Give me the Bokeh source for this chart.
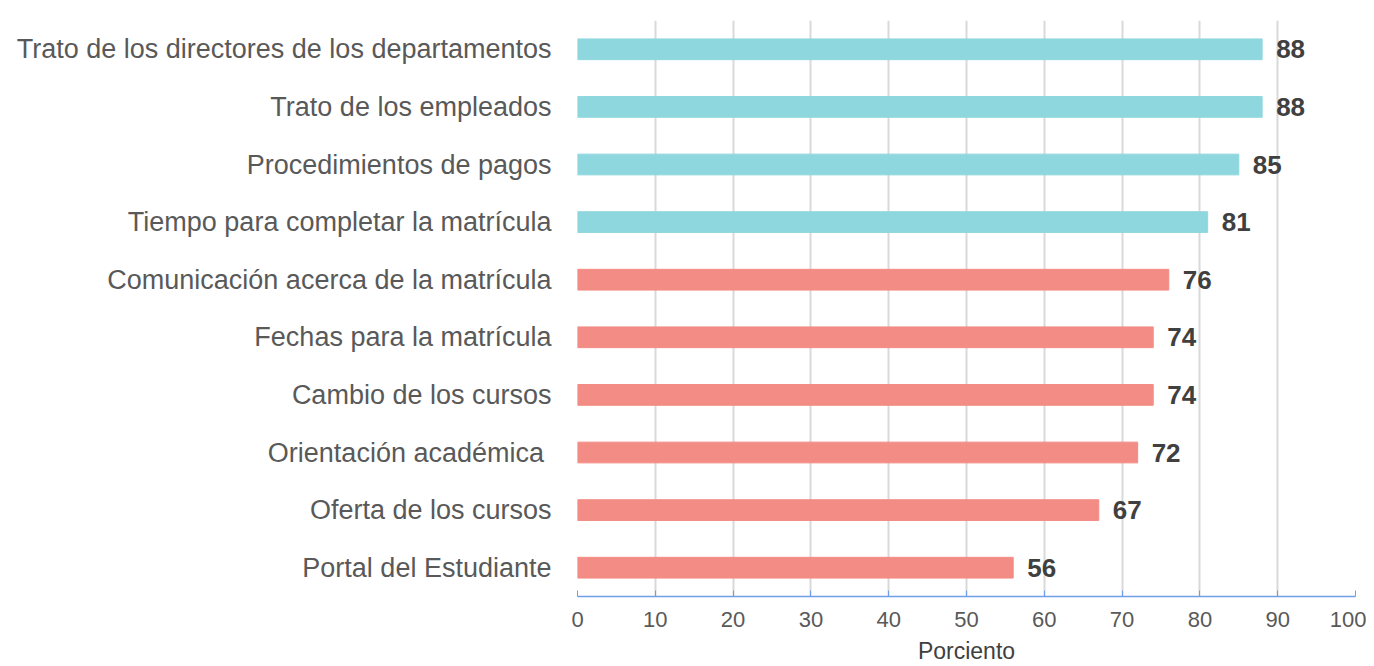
from bokeh.plotting import figure
from bokeh.models import ColumnDataSource, FactorRange, FixedTicker
from bokeh.core.properties import value
from bokeh.embed import file_html
from bokeh.resources import INLINE

categories = [
    "Trato de los directores de los departamentos",
    "Trato de los empleados",
    "Procedimientos de pagos",
    "Tiempo para completar la matrícula",
    "Comunicación acerca de la matrícula",
    "Fechas para la matrícula",
    "Cambio de los cursos",
    "Orientación académica ",
    "Oferta de los cursos",
    "Portal del Estudiante",
]
values = [88, 88, 85, 81, 76, 74, 74, 72, 67, 56]
colors = ["#8FD7DE"] * 4 + ["#F28C84"] * 6
tick_values = list(range(0, 101, 10))

src = ColumnDataSource(dict(cat=categories, val=values, color=colors,
                            lbl=[str(v) for v in values]))

p = figure(width=1366, height=666, output_backend="svg", toolbar_location=None,
           y_range=FactorRange(factors=list(reversed(categories))),
           x_range=(0, 100))
p.min_border_left = 577
p.min_border_right = 11
p.min_border_top = 20
p.min_border_bottom = 69
p.outline_line_color = None

p.hbar(y="cat", right="val", left=0, height=0.36, color="color", source=src)
p.text(x="val", y="cat", text="lbl", source=src, x_offset=14,
       text_baseline="middle", text_align="left", text_font_size="26px",
       text_font_style="bold", text_color="#404040",
       text_font=value("Liberation Sans"))

p.xaxis.ticker = FixedTicker(ticks=tick_values)
p.xaxis.axis_line_color = "#6F9FE8"
p.xaxis.axis_line_width = 1.5
p.xaxis.major_tick_line_color = "#6F9FE8"
p.xaxis.major_tick_in = 6
p.xaxis.major_tick_out = 0
p.xaxis.minor_tick_line_color = None
p.xaxis.major_label_text_font = "Liberation Sans"
p.xaxis.major_label_text_font_size = "22px"
p.xaxis.major_label_text_color = "#595959"
p.xaxis.major_label_standoff = 15
p.xaxis.axis_label = "Porciento"
p.xaxis.axis_label_text_font = "Liberation Sans"
p.xaxis.axis_label_text_font_size = "23px"
p.xaxis.axis_label_text_font_style = "normal"
p.xaxis.axis_label_text_color = "#404040"
p.xaxis.axis_label_standoff = 8

p.yaxis.axis_line_color = None
p.yaxis.major_tick_line_color = None
p.yaxis.minor_tick_line_color = None
p.yaxis.major_label_text_font = "Liberation Sans"
p.yaxis.major_label_text_font_size = "27px"
p.yaxis.major_label_text_color = "#595959"
p.yaxis.major_label_standoff = 20

p.xgrid.grid_line_color = "#D9D9D9"
p.xgrid.grid_line_width = 2
p.ygrid.grid_line_color = None

open("out.html", "w").write(file_html(p, INLINE))
